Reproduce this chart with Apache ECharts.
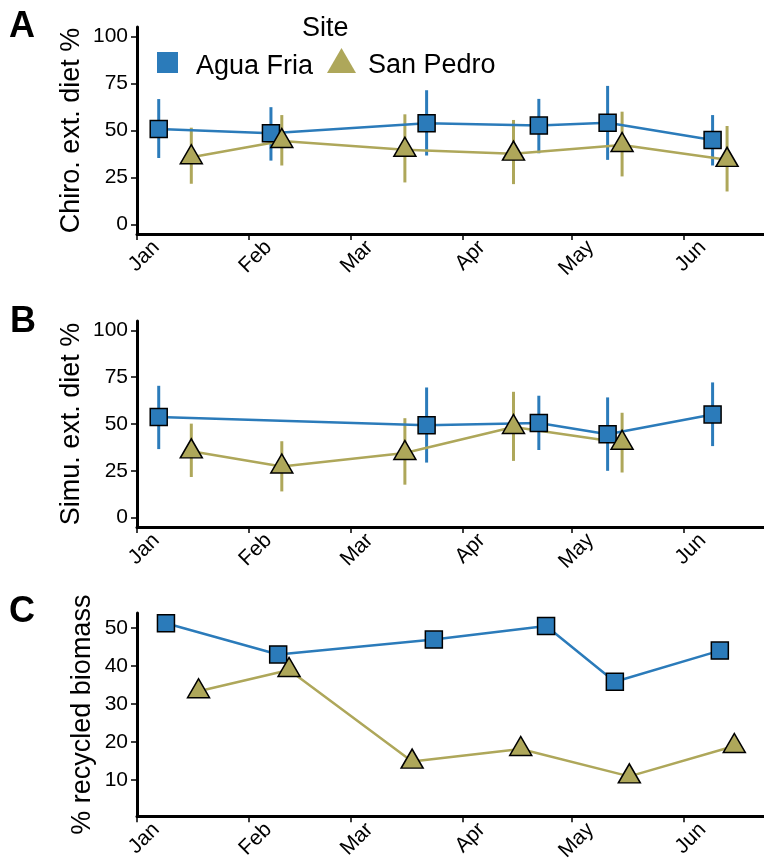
<!DOCTYPE html>
<html><head><meta charset="utf-8">
<script src="https://cdn.jsdelivr.net/npm/echarts@6/dist/echarts.min.js"></script>
<style>html,body{margin:0;padding:0;background:#fff}#main{width:764px;height:864px}</style>
</head><body><div id="main"></div>
<script>
const monthLabels = ['Jan','Feb','Mar','Apr','May','Jun'];
const monthStarts = ['2019-01-01','2019-02-01','2019-03-01','2019-04-01','2019-05-01','2019-06-01'];
const chiroTicks = [0,25,50,75,100];
const simuTicks = [0,25,50,75,100];
const recycTicks = [10,20,30,40,50];

// Panel A: Chironomid external diet %
const chiroAguaDates = ['2019-01-07','2019-02-07','2019-03-22','2019-04-22','2019-05-11','2019-06-09'];
const chiroAguaMean = [50.8,48.5,53.8,52.6,54.1,45.0];
const chiroAguaLow  = [35.4,34.0,36.7,37.9,34.4,31.4];
const chiroAguaHigh = [66.7,62.4,71.4,66.8,73.7,58.2];
const chiroSanDates = ['2019-01-16','2019-02-10','2019-03-16','2019-04-15','2019-05-15','2019-06-13'];
const chiroSanMean = [35.8,44.4,39.8,37.7,42.3,34.4];
const chiroSanLow  = [21.7,31.4,22.4,21.5,25.6,17.6];
const chiroSanHigh = [51.5,58.2,58.6,55.6,60.0,52.4];

// Panel B: Simuliid external diet %
const simuAguaDates = ['2019-01-07','2019-03-22','2019-04-22','2019-05-11','2019-06-09'];
const simuAguaMean = [53.7,49.3,50.5,44.5,55.1];
const simuAguaLow  = [36.6,29.4,36.1,25.0,38.2];
const simuAguaHigh = [70.4,69.5,65.1,64.2,72.2];
const simuSanDates = ['2019-01-16','2019-02-10','2019-03-16','2019-04-15','2019-05-15'];
const simuSanMean = [35.4,27.3,34.5,48.4,40.0];
const simuSanLow  = [21.7,14.0,17.6,30.3,24.1];
const simuSanHigh = [50.2,40.8,53.1,67.2,56.0];

// Panel C: % recycled biomass
const recycAguaDates = ['2019-01-09','2019-02-09','2019-03-24','2019-04-24','2019-05-13','2019-06-11'];
const recycAguaValues = [51.3,43.1,47.0,50.6,35.9,44.1];
const recycSanDates = ['2019-01-18','2019-02-12','2019-03-18','2019-04-17','2019-05-17','2019-06-15'];
const recycSanValues = [33.4,39.0,14.9,18.2,11.0,19.0];

const BLUE = '#2b7bba';
const OLIVE = '#aea75a';
const FONT = '"Liberation Sans", Arial, sans-serif';

const DAY0 = Date.UTC(2019,0,1);
function toDay(s){ const p = s.split('-').map(Number); return (Date.UTC(p[0],p[1]-1,p[2]) - DAY0)/864e5; }
const monthDays = monthStarts.map(toDay);

function pts(dates, vals){ return dates.map((d,i)=>[toDay(d), vals[i]]); }
function errs(dates, lo, hi){ return dates.map((d,i)=>[toDay(d), lo[i], hi[i]]); }

function errSeries(idx, name, color, data){
  return {
    type:'custom', name:name, xAxisIndex:idx, yAxisIndex:idx, data:data, silent:true, z:1,
    itemStyle:{color:color},
    renderItem:function(params, api){
      const a = api.coord([api.value(0), api.value(1)]);
      const b = api.coord([api.value(0), api.value(2)]);
      return {type:'line', shape:{x1:a[0],y1:a[1],x2:b[0],y2:b[1]}, style:{stroke:color, lineWidth:3}};
    }
  };
}
function lineSeries(idx, name, data, isAgua){
  return {
    type:'line', name:name, xAxisIndex:idx, yAxisIndex:idx, data:data, z:3,
    symbol: isAgua ? 'rect' : 'triangle',
    symbolSize: isAgua ? 17 : [22,19],
    symbolOffset: isAgua ? [0,0] : [0,-3],
    showAllSymbol:true,
    lineStyle:{color: isAgua?BLUE:OLIVE, width:2.5},
    itemStyle:{color: isAgua?BLUE:OLIVE, borderColor:'#000', borderWidth:1.5},
    emphasis:{disabled:true}, animation:false
  };
}

const grids = [
  {left:137, top:27, width:627, height:207},
  {left:137, top:321, width:627, height:206},
  {left:137, top:613, width:627, height:206}
];

function xAxisFor(idx){
  return {
    type:'value', gridIndex:idx, min:0, max:173.2,
    axisLine:{show:true, onZero:false, lineStyle:{color:'#000', width:3}},
    axisTick:{show:true, customValues:monthDays, length:6, lineStyle:{color:'#000', width:1.5}},
    axisLabel:{customValues:monthDays, rotate:45, color:'#000', fontFamily:FONT, fontSize:21, margin:-9,
      formatter:function(v){ const i = monthDays.indexOf(v); return i>=0 ? '{m|' + monthLabels[i] + '}' : ''; },
      rich:{m:{fontSize:21, color:'#000', fontFamily:FONT, padding:[54,0,0,0]}}},
    splitLine:{show:false}
  };
}
function yAxisFor(idx, name, min, max, ticks, gap){
  return {
    type:'value', gridIndex:idx, min:min, max:max, name:name, nameLocation:'middle', nameGap:gap,
    nameMoveOverlap:false,
    nameTextStyle:{fontSize:27, color:'#000', fontFamily:FONT},
    axisLine:{show:true, onZero:false, lineStyle:{color:'#000', width:3}},
    axisTick:{show:true, customValues:ticks, length:6, lineStyle:{color:'#000', width:1.5}},
    axisLabel:{customValues:ticks, fontSize:21, color:'#000', fontFamily:FONT, margin:9},
    splitLine:{show:false}
  };
}

const chart = echarts.init(document.getElementById('main'), null, {renderer:'canvas'});
chart.setOption({
  backgroundColor:'#fff',
  animation:false,
  textStyle:{fontFamily:FONT},
  grid:grids,
  xAxis:[xAxisFor(0), xAxisFor(1), xAxisFor(2)],
  yAxis:[
    yAxisFor(0, 'Chiro. ext. diet %', -5, 105, chiroTicks, 52),
    yAxisFor(1, 'Simu. ext. diet %', -5, 105, simuTicks, 52),
    yAxisFor(2, '% recycled biomass', 0.5, 54, recycTicks, 41)
  ],
  title:{text:'Site', left:297, top:10, textStyle:{fontSize:27, fontWeight:'normal', color:'#000', fontFamily:FONT}},
  legend:[
    {left:157, top:52, padding:0, itemWidth:21, itemHeight:21, selectedMode:false,
     data:[{name:'Agua Fria', icon:'rect', itemStyle:{color:BLUE, borderWidth:0}}],
     formatter:'{t|{name}}',
     textStyle:{fontSize:27, color:'#000', fontFamily:FONT,
       rich:{t:{fontSize:27, color:'#000', fontFamily:FONT, padding:[8,0,0,13]}}}},
    {left:327, top:48, padding:0, itemWidth:29, itemHeight:25, selectedMode:false,
     data:[{name:'San Pedro', icon:'triangle', itemStyle:{color:OLIVE, borderWidth:0}}],
     formatter:'{t|{name}}',
     textStyle:{fontSize:27, color:'#000', fontFamily:FONT,
       rich:{t:{fontSize:27, color:'#000', fontFamily:FONT, padding:[11,0,0,7]}}}}
  ],
  graphic:[
    {type:'text', left:9, top:9, style:{text:'A', fontSize:36, fontWeight:'bold', fill:'#000', fontFamily:FONT}},
    {type:'text', left:10, top:304, style:{text:'B', fontSize:36, fontWeight:'bold', fill:'#000', fontFamily:FONT}},
    {type:'text', left:9, top:594, style:{text:'C', fontSize:36, fontWeight:'bold', fill:'#000', fontFamily:FONT}}
  ],
  series:[
    errSeries(0,'Agua Fria',BLUE, errs(chiroAguaDates, chiroAguaLow, chiroAguaHigh)),
    errSeries(0,'San Pedro',OLIVE, errs(chiroSanDates, chiroSanLow, chiroSanHigh)),
    lineSeries(0,'Agua Fria', pts(chiroAguaDates, chiroAguaMean), true),
    lineSeries(0,'San Pedro', pts(chiroSanDates, chiroSanMean), false),
    errSeries(1,'Agua Fria',BLUE, errs(simuAguaDates, simuAguaLow, simuAguaHigh)),
    errSeries(1,'San Pedro',OLIVE, errs(simuSanDates, simuSanLow, simuSanHigh)),
    lineSeries(1,'Agua Fria', pts(simuAguaDates, simuAguaMean), true),
    lineSeries(1,'San Pedro', pts(simuSanDates, simuSanMean), false),
    lineSeries(2,'Agua Fria', pts(recycAguaDates, recycAguaValues), true),
    lineSeries(2,'San Pedro', pts(recycSanDates, recycSanValues), false)
  ]
});
</script></body></html>
